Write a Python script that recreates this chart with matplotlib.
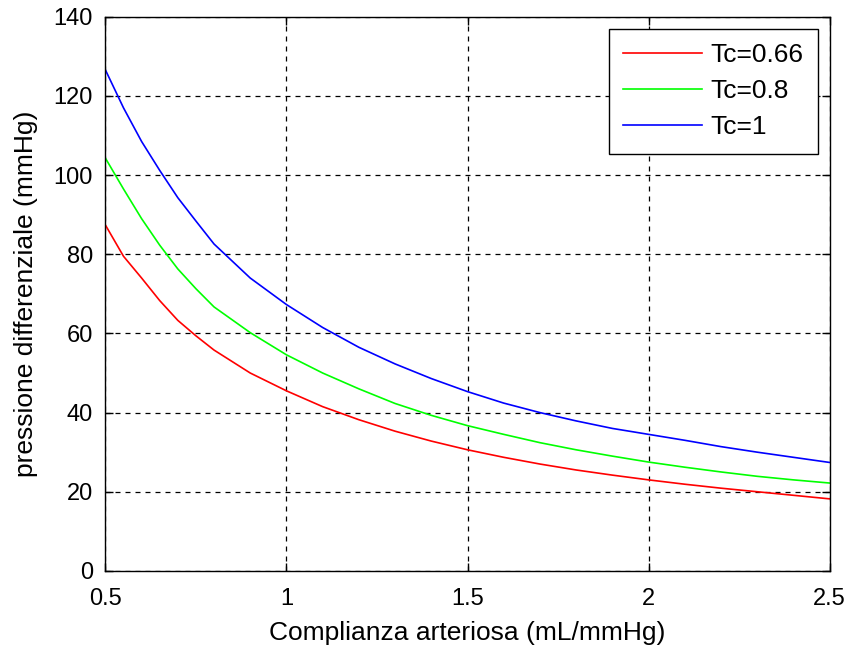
import numpy as np
import matplotlib
matplotlib.use("Agg")
import matplotlib.pyplot as plt

# valori
compliance = [0.5, 0.55, 0.6, 0.65, 0.7, 0.75, 0.8, 0.9, 1.0, 1.1, 1.2, 1.3, 1.4, 1.5,
              1.6, 1.7, 1.8, 1.9, 2.0, 2.1, 2.2, 2.3, 2.4, 2.5]
p_tc066 = [87.4, 79.5, 74.0, 68.3, 63.3, 59.4, 55.8, 50.0, 45.5, 41.5, 38.2, 35.3, 32.8, 30.6,
           28.7, 27.0, 25.5, 24.2, 23.0, 21.9, 20.9, 20.0, 19.1, 18.2]
p_tc08 = [104.3, 96.5, 89.0, 82.3, 76.3, 71.3, 66.7, 60.2, 54.6, 50.0, 46.0, 42.3, 39.3, 36.7,
          34.5, 32.4, 30.6, 29.0, 27.5, 26.2, 25.0, 23.9, 23.0, 22.2]
p_tc1 = [126.6, 117.0, 108.5, 101.2, 94.3, 88.4, 82.6, 74.0, 67.3, 61.5, 56.5, 52.3, 48.6, 45.3,
         42.4, 40.0, 37.9, 36.0, 34.5, 33.0, 31.4, 30.0, 28.7, 27.4]
labels = ["Tc=0.66", "Tc=0.8", "Tc=1"]
colors = ["#ff0000", "#00ff00", "#0000ff"]

x_ticks = [0.5, 1, 1.5, 2, 2.5]
x_ticklabels = ["0.5", "1", "1.5", "2", "2.5"]
y_ticks = [0, 20, 40, 60, 80, 100, 120, 140]

plt.rcParams['font.family'] = ['Liberation Sans', 'DejaVu Sans']

fig = plt.figure(figsize=(8.5, 6.48), dpi=100)
ax = fig.add_axes([0.124, 0.119, 0.852, 0.855])

for y, lab, col in zip([p_tc066, p_tc08, p_tc1], labels, colors):
    ax.plot(compliance, y, color=col, linewidth=1.2, label=lab)

ax.set_xlim(0.5, 2.5)
ax.set_ylim(0, 140)
ax.set_xticks(x_ticks)
ax.set_xticklabels(x_ticklabels)
ax.set_yticks(y_ticks)
ax.tick_params(direction="in", top=True, right=True, length=6, width=1,
               labelsize=17)
ax.tick_params(axis="x", pad=12)
ax.tick_params(axis="y", pad=9)
ax.grid(True, color="black", linestyle=(0, (4, 4)), linewidth=0.9)
for sp in ax.spines.values():
    sp.set_linewidth(1.0)

ax.set_xlabel("Complianza arteriosa (mL/mmHg)", fontsize=19, labelpad=8)
ax.set_ylabel("pressione differenziale (mmHg)", fontsize=19, labelpad=11)

leg = ax.legend(loc="upper right", fontsize=19, handlelength=3.0,
                handletextpad=0.3, borderpad=0.55, borderaxespad=0.45,
                fancybox=False, edgecolor="black", framealpha=1.0,
                labelspacing=0.45)
leg.get_frame().set_linewidth(1.0)

fig.savefig("out.png", dpi=100)
